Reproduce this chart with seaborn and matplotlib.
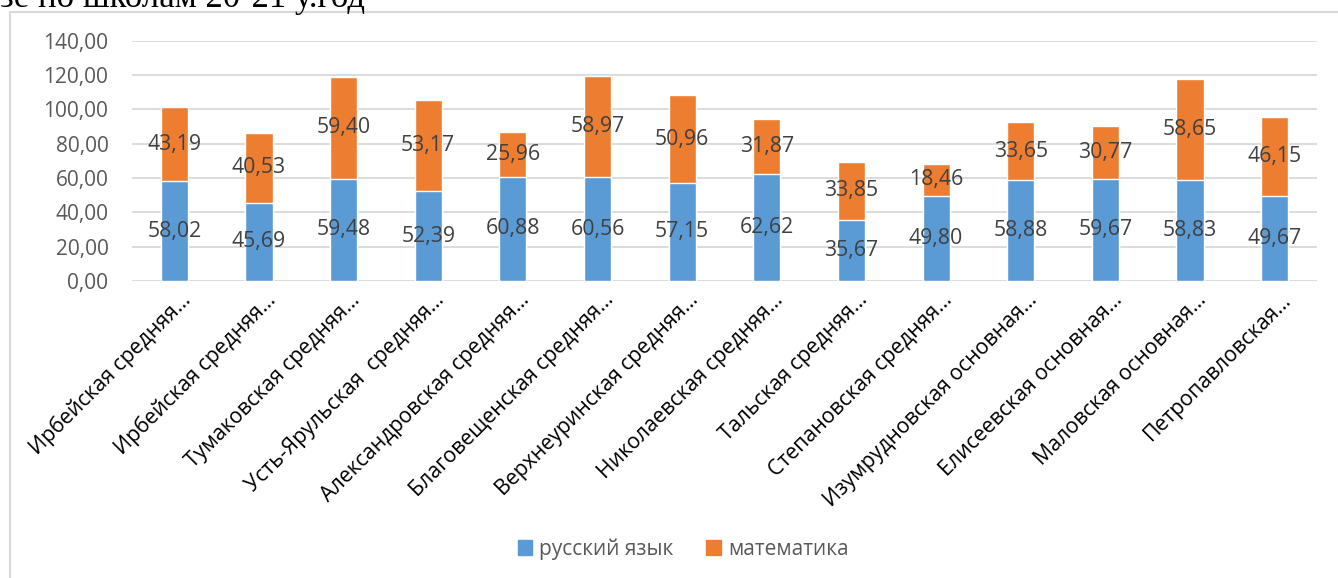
import seaborn as sns
import matplotlib.pyplot as plt
import matplotlib.ticker as mticker
from matplotlib.patches import Rectangle
import matplotlib.transforms as mtransforms
import numpy as np
import pandas as pd

# schools (labels are cut off like in the original)
schools = ["Ирбейская средняя…", "Ирбейская средняя…", "Тумаковская средняя…",
           "Усть-Ярульская  средняя…", "Александровская средняя…", "Благовещенская средняя…",
           "Верхнеуринская средняя…", "Николаевская средняя…", "Тальская средняя…",
           "Степановская средняя…", "Изумрудновская основная…", "Елисеевская основная…",
           "Маловская основная…", "Петропавловская…"]
rus = [58.02, 45.69, 59.48, 52.39, 60.88, 60.56, 57.15, 62.62, 35.67, 49.80, 58.88, 59.67, 58.83, 49.67]
math = [43.19, 40.53, 59.40, 53.17, 25.96, 58.97, 50.96, 31.87, 33.85, 18.46, 33.65, 30.77, 58.65, 46.15]
series = ["русский язык", "математика"]

blue = "#5B9BD5"
orange = "#ED7D31"

df = pd.DataFrame({"pos": range(len(schools)), "rus": rus, "math": math})
df["total"] = df["rus"] + df["math"]

sns.set_style("white")
plt.rcParams["font.family"] = ["Open Sans", "DejaVu Sans"]

fig = plt.figure(figsize=(13.38, 5.78), dpi=100)
ax = fig.add_axes([132/1338, 1-281/578, (1317-132)/1338, (281-40.7)/578])

# stacked: total in orange, russian on top of it in blue
sns.barplot(data=df, x="pos", y="total", color=orange, width=0.32, saturation=1, ax=ax, zorder=2)
sns.barplot(data=df, x="pos", y="rus", color=blue, width=0.32, saturation=1, ax=ax, zorder=3)

def fmt(v):
    return f"{v:.2f}".replace(".", ",")

# data labels in the middle of every segment
for i in range(len(schools)):
    ax.text(i, rus[i] / 2, fmt(rus[i]), ha="center", va="center", fontsize=15.3, color="#404040", zorder=5)
    ax.text(i, rus[i] + math[i] / 2, fmt(math[i]), ha="center", va="center", fontsize=15.3, color="#404040", zorder=5)

ax.set_ylim(0, 140)
ax.set_xlim(-0.5, len(schools) - 0.5)
ax.yaxis.set_major_locator(mticker.MultipleLocator(20))
ax.yaxis.set_major_formatter(mticker.FuncFormatter(lambda v, p: fmt(v)))
ax.grid(axis="y", color="#d9d9d9", linewidth=1.3, zorder=0)
ax.set_axisbelow(True)
for s in ax.spines.values():
    s.set_visible(False)
ax.tick_params(axis="y", length=0, pad=17, labelsize=15, labelcolor="#595959")
ax.tick_params(axis="x", length=0, pad=6, labelsize=15.3, labelcolor="black")
ax.set_xticks(range(len(schools)))
ax.set_xticklabels(schools, rotation=45, ha="right", va="top", rotation_mode="anchor")
shift = mtransforms.ScaledTranslation(6/100, 0, fig.dpi_scale_trans)
for lbl in ax.get_xticklabels():
    lbl.set_transform(lbl.get_transform() + shift)
ax.set_xlabel("")
ax.set_ylabel("")

# legend
handles = [Rectangle((0, 0), 1, 1, color=blue), Rectangle((0, 0), 1, 1, color=orange)]
fig.legend(handles, series, loc="center", bbox_to_anchor=(683/1338, 1-549/578), ncol=2, frameon=False,
           fontsize=15, labelcolor="#595959", handlelength=0.7, handleheight=0.7, columnspacing=1.55,
           handletextpad=0.35)

# chart frame and the cut-off heading from the document above it
fig.add_artist(Rectangle((10/1338, -0.05), 1.2, 1.05 - 12/578, transform=fig.transFigure,
                         fill=False, edgecolor="#d9d9d9", linewidth=1.5))
fig.text(0, 1 - 7/578, "зе по школам 20-21 у.год", fontfamily="Liberation Serif", fontsize=25,
         va="baseline", ha="left", color="black")

fig.savefig("out.png", dpi=100)
